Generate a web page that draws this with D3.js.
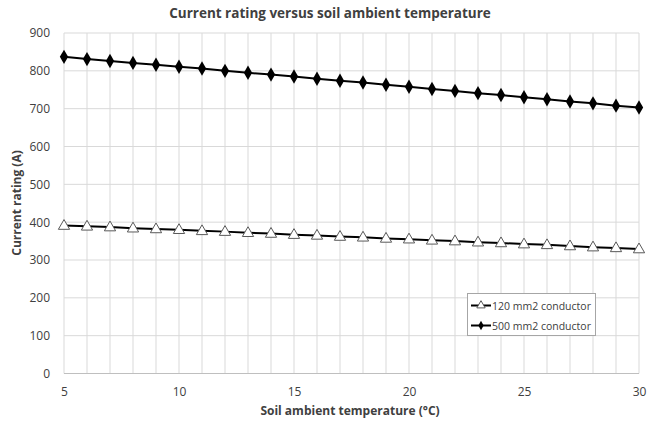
<!DOCTYPE html>
<html><head><meta charset="utf-8">
<script src="https://cdn.jsdelivr.net/npm/d3@7/dist/d3.min.js"></script>
<style>body{margin:0;background:#fff}svg{display:block}text{font-family:"Open Sans","Liberation Sans",sans-serif;fill:#404040}</style>
</head><body><svg id="c" width="654" height="423"></svg>
<script>
const temps = [5,6,7,8,9,10,11,12,13,14,15,16,17,18,19,20,21,22,23,24,25,26,27,28,29,30];
const rating120 = [391,389,387,384,382,380,377,375,372,370,367,365,362,360,357,355,352,350,347,345,342,340,337,334,332,329];
const rating500 = [837,831,826,821,816,811,806,800,795,790,785,779,774,769,763,758,752,747,741,736,730,725,719,714,708,703];
const xTicks = [5,10,15,20,25,30];
const yTicks = [0,100,200,300,400,500,600,700,800,900];
const seriesNames = ["120 mm2 conductor","500 mm2 conductor"];

const svg = d3.select("#c");
const x = d3.scaleLinear().domain([5,30]).range([64, 639]);
const y = d3.scaleLinear().domain([0,900]).range([373.5, 33]);

// grid
const g = svg.append("g");
g.selectAll("line.v").data(temps).join("line")
  .attr("x1", d=>x(d)).attr("x2", d=>x(d)).attr("y1", y(900)).attr("y2", y(0))
  .attr("stroke","#d9d9d9").attr("stroke-width",1);
g.selectAll("line.h").data(yTicks).join("line")
  .attr("x1", x(5)).attr("x2", x(30)).attr("y1", d=>y(d)).attr("y2", d=>y(d))
  .attr("stroke", d=> d===0 ? "#bfbfbf" : "#d9d9d9").attr("stroke-width",1);

// axes labels
const xa = svg.append("g").attr("transform",`translate(0,${y(0)})`)
  .call(d3.axisBottom(x).tickValues(xTicks).tickSize(0).tickPadding(14));
xa.select(".domain").remove();
xa.selectAll("text").attr("font-size","12px").attr("fill","#404040").attr("font-family","'Open Sans',sans-serif");
const ya = svg.append("g").attr("transform",`translate(${x(5)},0)`)
  .call(d3.axisLeft(y).tickValues(yTicks).tickSize(0).tickPadding(14));
ya.select(".domain").remove();
ya.selectAll("text").attr("font-size","12px").attr("fill","#404040").attr("font-family","'Open Sans',sans-serif");

// lines
const line = d3.line().x((d,i)=>x(temps[i])).y(d=>y(d));
[rating120, rating500].forEach(s=>{
  svg.append("path").datum(s).attr("d", line).attr("fill","none").attr("stroke","#000").attr("stroke-width",2);
});
// markers
const tri = d3.symbol().type(d3.symbolTriangle).size(55);
const dia = d3.symbol().type(d3.symbolDiamond).size(60);
svg.append("g").selectAll("path").data(rating120).join("path")
  .attr("d", tri).attr("transform",(d,i)=>`translate(${x(temps[i])},${y(d)+0.5})`)
  .attr("fill","#fff").attr("stroke","#595959").attr("stroke-width",1);
svg.append("g").selectAll("path").data(rating500).join("path")
  .attr("d", dia).attr("transform",(d,i)=>`translate(${x(temps[i])},${y(d)})`)
  .attr("fill","#000");

// title
svg.append("text").attr("x",330).attr("y",18).attr("text-anchor","middle")
  .attr("font-size","13.5px").attr("font-weight","bold").attr("fill","#000").text("Current rating versus soil ambient temperature");
svg.append("text").attr("x",350).attr("y",415).attr("text-anchor","middle")
  .attr("font-size","12px").attr("font-weight","bold").attr("fill","#000").text("Soil ambient temperature (°C)");
svg.append("text").attr("transform","translate(21,203) rotate(-90)").attr("text-anchor","middle")
  .attr("font-size","12px").attr("font-weight","bold").attr("fill","#000").text("Current rating (A)");

// legend
const lg = svg.append("g");
lg.append("rect").attr("x",467.5).attr("y",293.5).attr("width",128).attr("height",42)
  .attr("fill","#fff").attr("stroke","#a6a6a6");
seriesNames.forEach((n,i)=>{
  const ly = 305.5 + i*20;
  lg.append("line").attr("x1",471).attr("x2",491).attr("y1",ly).attr("y2",ly).attr("stroke","#000").attr("stroke-width",2);
  if(i===0) lg.append("path").attr("d", d3.symbol().type(d3.symbolTriangle).size(30)).attr("transform",`translate(481,${ly})`).attr("fill","#fff").attr("stroke","#595959");
  else lg.append("path").attr("d", d3.symbol().type(d3.symbolDiamond).size(25)).attr("transform",`translate(481,${ly})`).attr("fill","#000");
  lg.append("text").attr("x",492).attr("y",ly+4).attr("font-size","10.5px").attr("fill","#000").text(n);
});
</script></body></html>
